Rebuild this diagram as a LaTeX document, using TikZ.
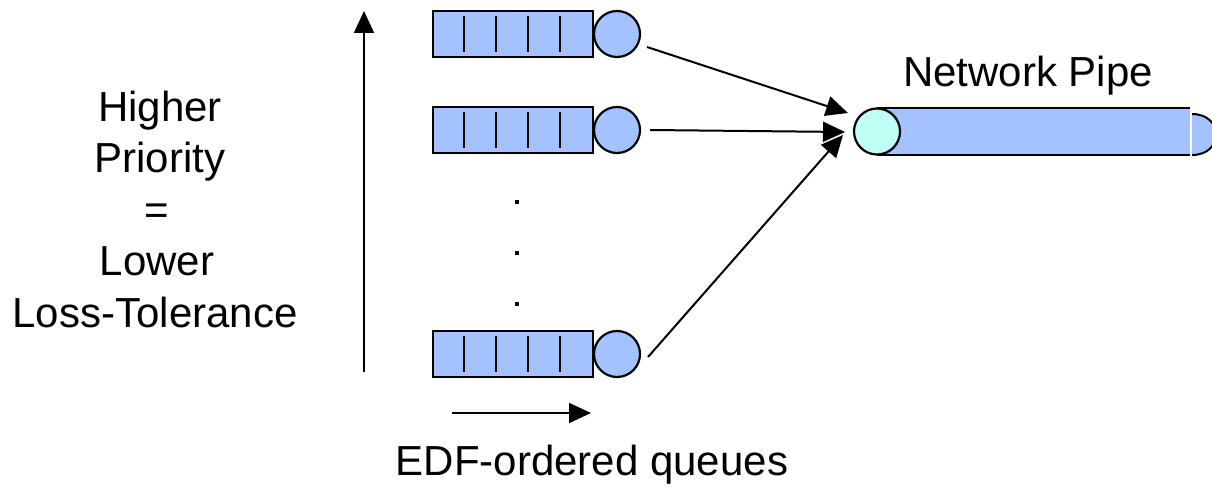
\documentclass[tikz,border=0pt]{standalone}
\usepackage{fontspec}
\setmainfont{Liberation Sans}
\usetikzlibrary{arrows.meta}
\definecolor{qblue}{HTML}{A4C2FF}
\definecolor{pcyan}{HTML}{C0FFF6}
\tikzset{
  lbl/.style={font=\fontsize{42}{51}\selectfont, inner sep=0pt, anchor=base},
  qbox/.style={draw=black, line width=2.2pt, fill=qblue},
  qcirc/.style={circle, draw=black, line width=2.2pt, fill=qblue, minimum size=46pt, inner sep=0pt},
  conn/.style={line width=2pt, -{Triangle[length=22pt,width=20pt]}},
  dotm/.style={fill=black, minimum size=4pt, inner sep=0pt}
}
\begin{document}
\begin{tikzpicture}[x=1pt,y=-1pt]
\useasboundingbox (0,0) rectangle (1212,489);
\clip (0,0) rectangle (1212,489);
% queues
\foreach \c/\n in {34/q1,130/q2,354/q3}{
  \draw[qbox] (433,\c-23) rectangle (593,\c+23);
  \foreach \x in {464,496,528,560}{
    \draw[line width=2pt] (\x,\c-18) -- (\x,\c+18);
  }
  \node[qcirc] (\n) at (617,\c) {};
}
% dots
\node[dotm] (d1) at (517,202) {};
\node[dotm] (d2) at (517,253) {};
\node[dotm] (d3) at (517,304) {};
% pipe
\fill[qblue] (877,108) rectangle (1190,156);
\draw[line width=2pt] (877,108.5) -- (1190,108.5);
\draw[line width=2pt] (877,155) -- (1190,155);
\filldraw[fill=qblue, draw=black, line width=2pt] (1192,114) .. controls (1224,114) and (1224,155) .. (1192,155);
\node[circle, draw=black, line width=2.2pt, fill=pcyan, minimum size=46pt, inner sep=0pt] (pipe) at (877,131.5) {};
% arrow tip coordinates
\coordinate (t1) at (848,113);
\coordinate (t2) at (845,132);
\coordinate (t3) at (843,135);
\coordinate (s1) at (647,47);
\coordinate (s2) at (650,130);
\coordinate (s3) at (648,357);
\draw[conn] (s1) -- (t1);
\draw[conn] (s2) -- (t2);
\draw[conn] (s3) -- (t3);
% vertical arrow
\coordinate (vb) at (364,372);
\coordinate (vt) at (364,11);
\draw[conn] (vb) -- (vt);
% horizontal arrow
\coordinate (hb) at (452,413);
\coordinate (ht) at (591,413);
\draw[conn] (hb) -- (ht);
% labels
\node[lbl] (l1) at (160,122) {Higher};
\node[lbl] (l2) at (160,173) {Priority};
\node[lbl] (l3) at (157,224) {=};
\node[lbl] (l4) at (157,275) {Lower};
\node[lbl] (l5) at (155,327) {Loss-Tolerance};
\node[lbl] (np) at (1028,87) {Network Pipe};
\node[lbl] (edf) at (592,475) {EDF-ordered queues};
\end{tikzpicture}
\end{document}
